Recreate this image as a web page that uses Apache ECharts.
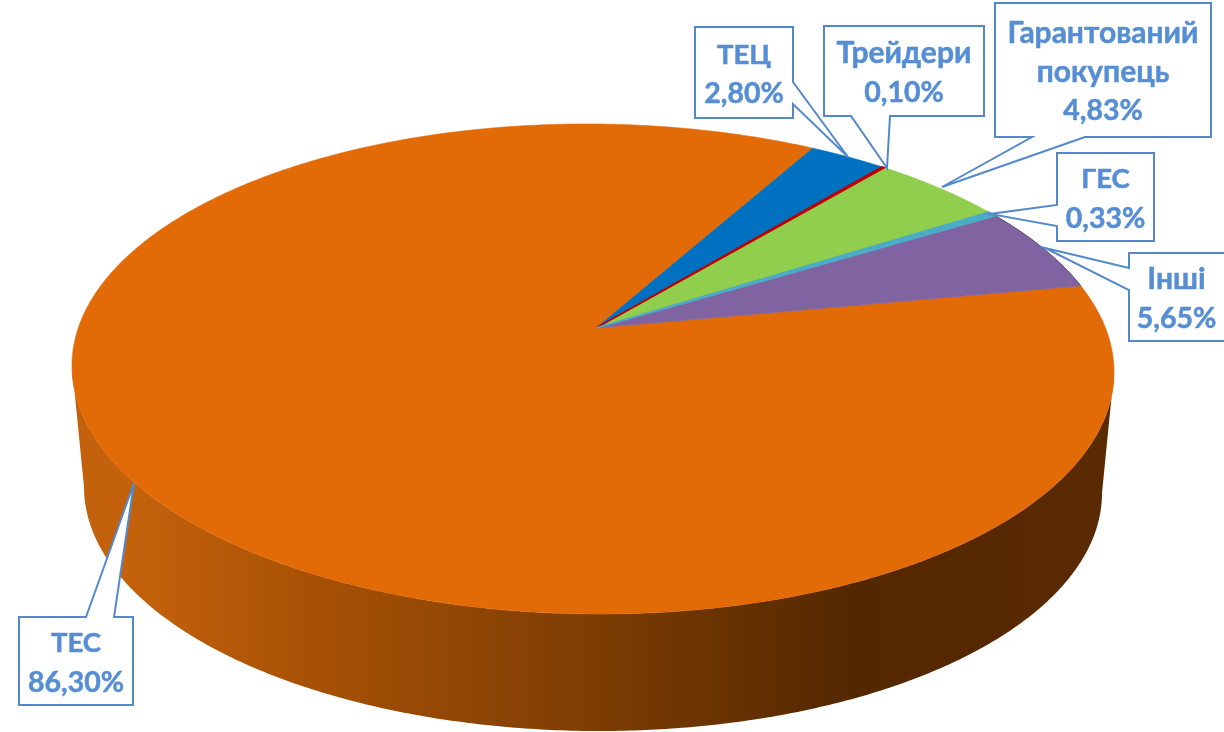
<!DOCTYPE html>
<html>
<head>
<meta charset="utf-8">
<title>Структура</title>
<script src="https://cdn.jsdelivr.net/npm/echarts@6/dist/echarts.min.js"></script>
<style>
    html, body { margin: 0; padding: 0; background: #fff; }
    #main { width: 1224px; height: 732px; }
</style>
</head>
<body>
<div id="main"></div>
<script>
const names = ['ТЕС', 'ТЕЦ', 'Трейдери', 'Гарантований\nпокупець', 'ГЕС', 'Інші'];
const shares = [86.30, 2.80, 0.10, 4.83, 0.33, 5.65];
const sliceColors = ['#E26A07', '#0070C0', '#C00000', '#92CE4E', '#4BACC6', '#8063A1'];

// callout boxes: [left, top, right, bottom], tail base points, tail tip
const callouts = [
    { box: [19, 617, 133, 705], side: 'top', base: [86, 114], tip: [134, 483] },
    { box: [695, 27, 793, 118], side: 'right', base: [82, 104], tip: [848, 157] },
    { box: [824, 26, 984, 116], side: 'bottom', base: [851, 890], tip: [887, 168] },
    { box: [995, 3, 1211, 137], side: 'bottom', base: [1032, 1085], tip: [942, 187] },
    { box: [1057, 153, 1154, 241], side: 'left', base: [205, 226], tip: [990, 214] },
    { box: [1129, 253, 1226, 341], side: 'left', base: [268, 290], tip: [1045, 248] }
];

const startAngle = 78.7;
const lineColor = '#5488CC';
const textColor = '#558ED5';

// top face and bottom rim of the drum, apexShift = how far the apex sits above the ellipse centre
const topRim = { cx: 593, cy: 369, rx: 521, ry: 245 };
const bottomRim = { cx: 593, cy: 490, rx: 509, ry: 241 };
const apexShift = 0.167;
const apex = [596, 328];
const tilt = 0.006;
// angle where the projected rim reaches its left and right extremes
const sideAngle = Math.acos(-apexShift) * 180 / Math.PI;

const project = (deg, rim) => {
    const t = deg * Math.PI / 180;
    const X = Math.sin(t);
    const Y = Math.cos(t);
    const w = 1 + apexShift * Y;
    const px = X * Math.sqrt(1 - apexShift * apexShift) / w;
    const py = (Y + apexShift) / w;
    const x = rim.cx + rim.rx * px;
    return [x, rim.cy - rim.ry * py + tilt * (x - rim.cx)];
};

const rimPoints = (from, to, rim) => {
    const pts = [];
    const n = Math.max(2, Math.ceil(Math.abs(to - from) * 2));
    for (let i = 0; i <= n; i++) {
        pts.push(project(from + (to - from) * i / n, rim));
    }
    return pts;
};

const total = shares.reduce((a, b) => a + b, 0);

const renderSlice = (params, api) => {
    const i = params.dataIndex;
    let sum = 0;
    for (let k = 0; k < i; k++) sum += shares[k];
    const from = startAngle + sum / total * 360;
    const to = from + api.value(0) / total * 360;
    const color = sliceColors[i];
    // the two slivers need a wider edge and have to stay above their neighbours
    const sliver = i === 2 || i === 4;
    const children = [];
    if (i === 0) {
        // the visible wall is all on the biggest slice
        const wall = rimPoints(sideAngle, 360 - sideAngle, topRim)
            .concat(rimPoints(360 - sideAngle, sideAngle, bottomRim));
        children.push({
            type: 'polygon',
            shape: { points: wall },
            style: {
                fill: new echarts.graphic.LinearGradient(0, 0, 1, 0, [
                    { offset: 0, color: '#C2600C' },
                    { offset: 0.06, color: '#C4620C' },
                    { offset: 0.22, color: '#A95205' },
                    { offset: 0.42, color: '#8A4304' },
                    { offset: 0.61, color: '#6B3402' },
                    { offset: 0.75, color: '#532700' },
                    { offset: 1, color: '#5A2A03' }
                ])
            }
        });
    }
    children.push({
        type: 'polygon',
        z2: sliver ? 3 : 1,
        shape: { points: [apex].concat(rimPoints(from, to, topRim)) },
        style: { fill: color, stroke: color, lineWidth: sliver ? 1.6 : 0.6 }
    });
    if (i === 5) {
        children.push({
            type: 'polyline',
            z2: 2,
            shape: { points: rimPoints(from, to, topRim) },
            style: { fill: null, stroke: '#5D4A78', lineWidth: 1 }
        });
    }
    return { type: 'group', children: children };
};

const calloutPoints = (c) => {
    const [l, t, r, b] = c.box;
    if (c.side === 'top') {
        return [[l, t], [c.base[0], t], c.tip, [c.base[1], t], [r, t], [r, b], [l, b]];
    }
    if (c.side === 'right') {
        return [[l, t], [r, t], [r, c.base[0]], c.tip, [r, c.base[1]], [r, b], [l, b]];
    }
    if (c.side === 'bottom') {
        return [[l, t], [r, t], [r, b], [c.base[1], b], c.tip, [c.base[0], b], [l, b]];
    }
    return [[l, t], [r, t], [r, b], [l, b], [l, c.base[1]], c.tip, [l, c.base[0]]];
};

const renderCallout = (params, api) => {
    const i = params.dataIndex;
    const c = callouts[i];
    const pct = api.value(0).toFixed(2).replace('.', ',') + '%';
    const lines = names[i].split('\n').concat(pct);
    const midX = (c.box[0] + Math.min(c.box[2], 1224)) / 2;
    const midY = (c.box[1] + c.box[3]) / 2;
    const children = [{
        type: 'polygon',
        shape: { points: calloutPoints(c) },
        style: { fill: '#fff', stroke: lineColor, lineWidth: 2 }
    }];
    lines.forEach((line, k) => {
        // Lato capitals run wider than the rest, so the short names get a smaller size
        let size = 30;
        if (k === lines.length - 1) size = 28.5;
        else if (line.length === 3) size = 27.5;
        children.push({
            type: 'text',
            style: {
                x: midX,
                y: midY + 2 + (k - (lines.length - 1) / 2) * 39,
                text: line,
                fill: textColor,
                stroke: textColor,
                lineWidth: 0.5,
                font: 'bold ' + size + 'px Lato, "Noto Sans", sans-serif',
                align: 'center',
                verticalAlign: 'middle'
            }
        });
    });
    return { type: 'group', children: children };
};

const chart = echarts.init(document.getElementById('main'));
chart.setOption({
    animation: false,
    backgroundColor: '#fff',
    series: [
        {
            type: 'custom',
            coordinateSystem: 'none',
            silent: true,
            renderItem: renderSlice,
            data: shares.map((v) => [v])
        },
        {
            type: 'custom',
            coordinateSystem: 'none',
            silent: true,
            z: 5,
            renderItem: renderCallout,
            data: shares.map((v) => [v])
        }
    ]
});
</script>
</body>
</html>
